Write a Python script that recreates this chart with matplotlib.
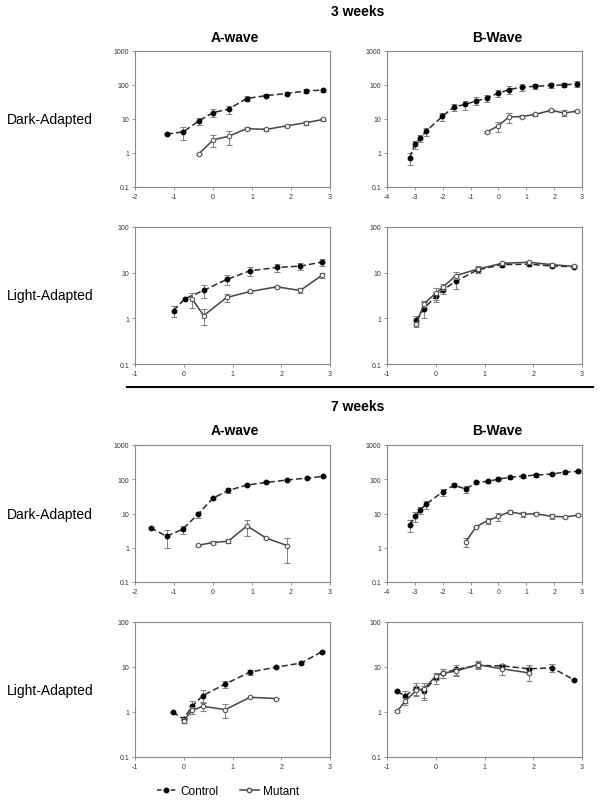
import matplotlib
matplotlib.use("Agg")
import matplotlib.pyplot as plt
from matplotlib.lines import Line2D
from matplotlib.ticker import FixedLocator, NullLocator

plt.rcParams["font.family"] = ["Liberation Sans", "DejaVu Sans"]

# ---- 3 weeks, dark-adapted, A-wave
w3_da_a_ctrl_x = [-1.18, -0.76, -0.37, 0.01, 0.40, 0.86, 1.37, 1.89, 2.39, 2.82]
w3_da_a_ctrl_y = [3.6, 4.2, 8.7, 15.5, 19.5, 40, 49, 56, 67, 71]
w3_da_a_ctrl_e = [0.3, 1.8, 2.0, 4.0, 5.0, 7.0, 6.0, 6.0, 8.0, 7.0]
w3_da_a_mut_x = [-0.37, 0.01, 0.40, 0.86, 1.37, 1.89, 2.39, 2.82]
w3_da_a_mut_y = [0.93, 2.45, 3.1, 5.2, 4.95, 6.3, 7.8, 9.7]
w3_da_a_mut_e = [0.05, 0.9, 1.4, 0.6, 0.4, 0.5, 1.2, 1.0]

# ---- 3 weeks, dark-adapted, B-wave
w3_da_b_ctrl_x = [-3.19, -3.0, -2.8, -2.61, -2.01, -1.6, -1.19, -0.79, -0.4, -0.02, 0.38, 0.84, 1.32, 1.89, 2.36, 2.82]
w3_da_b_ctrl_y = [0.73, 1.8, 2.7, 4.3, 12, 22.5, 27, 34, 41.5, 57, 73, 87, 91, 98, 100, 109]
w3_da_b_ctrl_e = [0.3, 0.5, 0.6, 1.2, 3.3, 5, 8, 9, 10, 14, 18, 20, 17, 15, 15, 20]
w3_da_b_mut_x = [-0.41, -0.02, 0.38, 0.84, 1.32, 1.89, 2.36, 2.82]
w3_da_b_mut_y = [4.15, 6.2, 11.5, 11.8, 13.7, 18, 15, 17]
w3_da_b_mut_e = [0.3, 2.0, 4.0, 1.0, 1.5, 1.5, 3.0, 1.0]

# ---- 3 weeks, light-adapted, A-wave
w3_la_a_ctrl_x = [-0.21, 0.02, 0.41, 0.88, 1.36, 1.91, 2.39, 2.83]
w3_la_a_ctrl_y = [1.48, 2.67, 4.1, 7.1, 11.0, 13.0, 13.9, 17]
w3_la_a_ctrl_e = [0.4, 0.15, 1.3, 1.8, 2.5, 2.5, 2.5, 3.0]
w3_la_a_mut_x = [0.17, 0.41, 0.88, 1.36, 1.91, 2.39, 2.83]
w3_la_a_mut_y = [2.67, 1.15, 2.86, 3.87, 4.9, 4.07, 8.7]
w3_la_a_mut_e = [1.0, 0.45, 0.6, 0.2, 0.3, 0.5, 1.0]

# ---- 3 weeks, light-adapted, B-wave
w3_la_b_x = [-0.4, -0.24, 0.0, 0.155, 0.41, 0.86, 1.36, 1.91, 2.38, 2.83]
w3_la_b_ctrl_y = [0.90, 1.63, 3.05, 4.2, 6.5, 11.5, 15, 15.3, 14, 13.5]
w3_la_b_ctrl_e = [0.2, 0.6, 0.8, 0.8, 2.0, 1.5, 1.5, 1.5, 1.0, 1.0]
w3_la_b_mut_y = [0.74, 2.1, 3.55, 4.9, 8.6, 12, 16, 16.9, 15, 13.7]
w3_la_b_mut_e = [0.1, 0.3, 1.0, 0.8, 1.5, 2.0, 1.5, 1.5, 1.0, 1.0]

# ---- 7 weeks, dark-adapted, A-wave
w7_da_a_ctrl_x = [-1.6, -1.19, -0.78, -0.39, 0.0, 0.39, 0.87, 1.37, 1.9, 2.4, 2.82]
w7_da_a_ctrl_y = [3.8, 2.17, 3.47, 9.4, 28, 47, 67.5, 81, 95, 108, 121]
w7_da_a_ctrl_e = [0.2, 1.2, 0.9, 2.0, 3.0, 7.0, 5.0, 5.0, 5.0, 5.0, 6.0]
w7_da_a_mut_x = [-0.39, 0.0, 0.39, 0.87, 1.37, 1.9]
w7_da_a_mut_y = [1.18, 1.42, 1.55, 4.35, 1.9, 1.16]
w7_da_a_mut_e = [0.05, 0.15, 0.2, 2.2, 0.1, 0.8]

# ---- 7 weeks, dark-adapted, B-wave
w7_da_b_ctrl_x = [-3.18, -2.99, -2.8, -2.6, -2.0, -1.59, -1.18, -0.79, -0.38, 0.0, 0.4, 0.87, 1.35, 1.92, 2.4, 2.86]
w7_da_b_ctrl_y = [4.65, 8.2, 12.8, 18.7, 43, 67.5, 51.5, 81, 86.5, 101, 113, 124, 132, 142, 162, 169]
w7_da_b_ctrl_e = [1.7, 2.5, 3, 5, 10, 8, 12, 10, 10, 12, 12, 12, 12, 12, 15, 15]
w7_da_b_mut_x = [-1.18, -0.79, -0.38, 0.0, 0.4, 0.87, 1.35, 1.92, 2.4, 2.86]
w7_da_b_mut_y = [1.48, 4.17, 6.2, 8.2, 11.2, 9.6, 9.8, 8.2, 8.0, 8.9]
w7_da_b_mut_e = [0.4, 0.2, 1.2, 2.0, 1.5, 1.5, 1.0, 1.5, 0.5, 0.5]

# ---- 7 weeks, light-adapted, A-wave
w7_la_a_ctrl_x = [-0.23, 0.0, 0.17, 0.39, 0.85, 1.36, 1.9, 2.4, 2.83]
w7_la_a_ctrl_y = [0.99, 0.70, 1.34, 2.31, 4.19, 7.7, 9.95, 12.2, 21.7]
w7_la_a_ctrl_e = [0.03, 0.05, 0.45, 0.7, 0.8, 1.0, 0.5, 0.5, 0.5]
w7_la_a_mut_x = [0.0, 0.17, 0.39, 0.85, 1.36, 1.9]
w7_la_a_mut_y = [0.645, 1.08, 1.34, 1.13, 2.12, 1.99]
w7_la_a_mut_e = [0.08, 0.2, 0.3, 0.4, 0.05, 0.05]

# ---- 7 weeks, light-adapted, B-wave
w7_la_b_ctrl_x = [-0.79, -0.63, -0.4, -0.24, 0.0, 0.155, 0.41, 0.86, 1.36, 1.91, 2.39, 2.83]
w7_la_b_ctrl_y = [2.88, 2.27, 3.41, 2.88, 5.75, 7.3, 8.8, 10.8, 10.6, 9.1, 9.6, 5.2]
w7_la_b_ctrl_e = [0.1, 0.7, 1.0, 1.0, 1.5, 1.5, 2.5, 2.0, 1.0, 2.0, 2.0, 0.2]
w7_la_b_mut_x = [-0.79, -0.63, -0.4, -0.24, 0.0, 0.155, 0.41, 0.86, 1.36, 1.91]
w7_la_b_mut_y = [1.04, 1.73, 3.03, 3.3, 6.27, 7.3, 8.07, 11.3, 9.1, 7.4]
w7_la_b_mut_e = [0.05, 0.3, 0.8, 1.2, 1.2, 1.5, 1.5, 2.0, 2.5, 2.5]

group_titles = ["3 weeks", "7 weeks"]
wave_titles = ["A-wave", "B-Wave"]
row_labels = ["Dark-Adapted", "Light-Adapted"]

FIG_W, FIG_H = 602, 804
COL_LEFT = [135, 387]
COL_W = 195
ROW_TOP = [52, 228, 446, 623]
ROW_H = [136, 137, 137, 135]
MS = 3.2


def draw_panel(ax, ctrl, mut, xlim, ytop):
    cx, cy, ce = ctrl
    mx, my, me = mut
    ax.errorbar(cx, cy, yerr=ce, color="#2a2a2a", ls=(0, (4, 2)), lw=1.1,
                marker="o", ms=MS, mfc="black", mec="black",
                ecolor="#808080", elinewidth=0.7, capsize=2, capthick=0.7, zorder=3)
    ax.errorbar(mx, my, yerr=me, color="#444444", ls="-", lw=1.1,
                marker="o", ms=MS, mfc="white", mec="#555555", mew=0.8,
                ecolor="#808080", elinewidth=0.7, capsize=2, capthick=0.7, zorder=4)
    ax.set_yscale("log")
    ax.set_xlim(*xlim)
    ax.set_ylim(0.1, ytop)
    yt = [0.1, 1, 10, 100, 1000][: 5 if ytop == 1000 else 4]
    ax.yaxis.set_major_locator(FixedLocator(yt))
    ax.yaxis.set_minor_locator(NullLocator())
    ax.set_yticklabels([f"{v:g}" for v in yt])
    xt = list(range(xlim[0], xlim[1] + 1))
    ax.set_xticks(xt)
    ax.set_xticklabels([str(v) for v in xt])
    for s in ax.spines.values():
        s.set_color("#888888")
        s.set_linewidth(0.8)
    ax.tick_params(length=2, width=0.6, color="#888888", labelsize=5,
                   labelcolor="#333333", pad=2)


panels = [
    (0, 0, (w3_da_a_ctrl_x, w3_da_a_ctrl_y, w3_da_a_ctrl_e), (w3_da_a_mut_x, w3_da_a_mut_y, w3_da_a_mut_e), (-2, 3), 1000),
    (0, 1, (w3_da_b_ctrl_x, w3_da_b_ctrl_y, w3_da_b_ctrl_e), (w3_da_b_mut_x, w3_da_b_mut_y, w3_da_b_mut_e), (-4, 3), 1000),
    (1, 0, (w3_la_a_ctrl_x, w3_la_a_ctrl_y, w3_la_a_ctrl_e), (w3_la_a_mut_x, w3_la_a_mut_y, w3_la_a_mut_e), (-1, 3), 100),
    (1, 1, (w3_la_b_x, w3_la_b_ctrl_y, w3_la_b_ctrl_e), (w3_la_b_x, w3_la_b_mut_y, w3_la_b_mut_e), (-1, 3), 100),
    (2, 0, (w7_da_a_ctrl_x, w7_da_a_ctrl_y, w7_da_a_ctrl_e), (w7_da_a_mut_x, w7_da_a_mut_y, w7_da_a_mut_e), (-2, 3), 1000),
    (2, 1, (w7_da_b_ctrl_x, w7_da_b_ctrl_y, w7_da_b_ctrl_e), (w7_da_b_mut_x, w7_da_b_mut_y, w7_da_b_mut_e), (-4, 3), 1000),
    (3, 0, (w7_la_a_ctrl_x, w7_la_a_ctrl_y, w7_la_a_ctrl_e), (w7_la_a_mut_x, w7_la_a_mut_y, w7_la_a_mut_e), (-1, 3), 100),
    (3, 1, (w7_la_b_ctrl_x, w7_la_b_ctrl_y, w7_la_b_ctrl_e), (w7_la_b_mut_x, w7_la_b_mut_y, w7_la_b_mut_e), (-1, 3), 100),
]

fig = plt.figure(figsize=(6.02, 8.04), dpi=100)

for row, col, ctrl, mut, xlim, ytop in panels:
    left = COL_LEFT[col] / FIG_W
    bottom = 1 - (ROW_TOP[row] + ROW_H[row]) / FIG_H
    ax = fig.add_axes([left, bottom, COL_W / FIG_W, ROW_H[row] / FIG_H])
    draw_panel(ax, ctrl, mut, xlim, ytop)

# row labels
for row in range(4):
    yc = 1 - (ROW_TOP[row] + ROW_H[row] / 2) / FIG_H
    fig.text(50 / FIG_W, yc, row_labels[row % 2], ha="center", va="center", fontsize=10)

# group and wave titles
for g, (gy, wy) in enumerate([(12, 38), (407, 431)]):
    fig.text(358 / FIG_W, 1 - gy / FIG_H, group_titles[g], ha="center", va="center",
             fontsize=10, fontweight="bold")
    fig.text(235 / FIG_W, 1 - wy / FIG_H, wave_titles[0], ha="center", va="center",
             fontsize=10, fontweight="bold")
    fig.text(497 / FIG_W, 1 - wy / FIG_H, wave_titles[1], ha="center", va="center",
             fontsize=10, fontweight="bold")

# separator between the two age groups
fig.add_artist(Line2D([127 / FIG_W, 593 / FIG_W], [1 - 388 / FIG_H] * 2,
                      color="black", lw=1.5))

handles = [
    Line2D([], [], color="#2a2a2a", ls=(0, (3, 1.5)), lw=1.1, marker="o", ms=MS,
           mfc="black", mec="black"),
    Line2D([], [], color="#444444", ls="-", lw=1.1, marker="o", ms=MS,
           mfc="white", mec="#555555"),
]
fig.legend(handles, ["Control", "Mutant"], loc="center", ncol=2, frameon=False,
           bbox_to_anchor=(228 / FIG_W, 1 - 792 / FIG_H), fontsize=8.5,
           handlelength=1.6, handletextpad=0.4, columnspacing=1.8)

fig.savefig("out.png", dpi=100)
